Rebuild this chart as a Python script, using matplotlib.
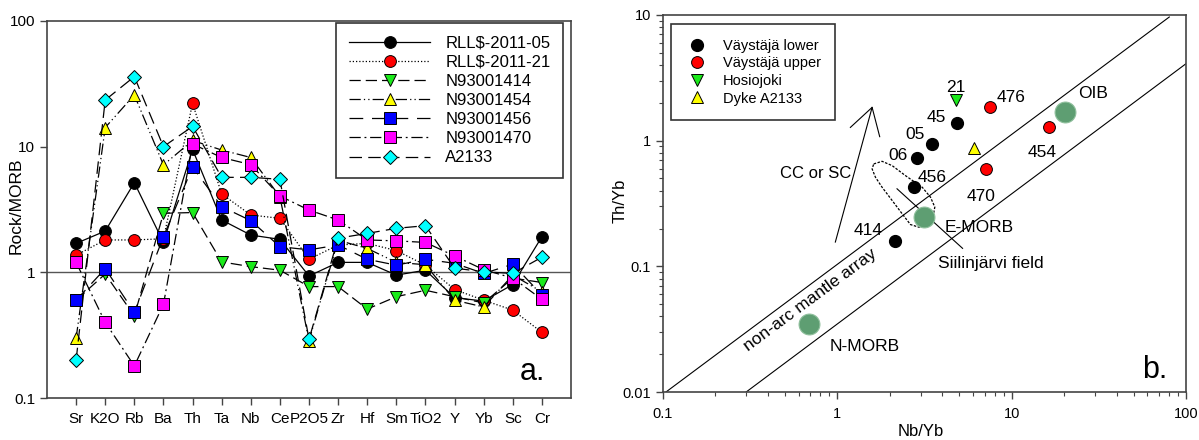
import matplotlib
matplotlib.use("Agg")
import matplotlib.pyplot as plt
from matplotlib.ticker import LogLocator, NullFormatter, NullLocator

plt.rcParams['font.family'] = ['Liberation Sans', 'DejaVu Sans']

# ---- panel a: MORB-normalised spider diagram ----
elements = ['Sr', 'K2O', 'Rb', 'Ba', 'Th', 'Ta', 'Nb', 'Ce', 'P2O5', 'Zr',
            'Hf', 'Sm', 'TiO2', 'Y', 'Yb', 'Sc', 'Cr']

rll05 = [1.70, 2.13, 5.17, 1.73, 9.5, 2.61, 1.98, 1.83, 0.935, 1.20, 1.20, 0.95, 1.04, 0.63, 0.59, 0.80, 1.92]
rll21 = [1.37, 1.81, 1.81, 1.85, 22.1, 4.2, 2.86, 2.69, 1.27, 1.65, 1.70, 1.49, 1.14, 0.73, 0.60, 0.50, 0.333]
n414 = [0.60, 0.97, 0.45, 2.95, 2.99, 1.21, 1.11, 1.04, 0.77, 0.77, 0.51, 0.64, 0.72, 0.64, 0.57, 0.90, 0.83]
n454 = [0.30, 14.2, 25.8, 7.15, 11.2, 9.4, 8.2, 4.0, 0.286, 1.8, 1.55, 1.2, 1.15, 0.60, 0.53, 0.95, 0.70]
n456 = [0.60, 1.07, 0.48, 1.92, 6.9, 3.33, 2.58, 1.60, 1.51, 1.65, 1.27, 1.14, 1.27, 1.18, 0.98, 1.16, 0.66]
n470 = [1.20, 0.40, 0.18, 0.556, 10.5, 8.2, 7.2, 4.05, 3.13, 2.61, 1.81, 1.78, 1.73, 1.35, 1.05, 0.90, 0.61]
a2133 = [0.20, 23.5, 36.1, 10.0, 14.5, 5.7, 5.7, 5.5, 0.293, 1.87, 2.04, 2.24, 2.35, 1.08, 1.01, 0.98, 1.32]

# ---- panel b: Th/Yb vs Nb/Yb ----
lower_nb = [4.83, 3.47, 2.87, 2.74, 2.13]
lower_th = [1.39, 0.946, 0.73, 0.431, 0.159]
upper_nb = [7.48, 7.1, 16.3]
upper_th = [1.86, 0.59, 1.29]
hosio_nb = [4.77]
hosio_th = [2.12]
dyke_nb = [6.05]
dyke_th = [0.88]
ref_nb = [0.69, 3.13, 20.2]   # N-MORB, E-MORB, OIB
ref_th = [0.0347, 0.246, 1.70]

# mantle array boundaries
array_top_nb = [0.104, 80.2]
array_top_th = [0.01, 9.64]
array_bot_nb = [0.30, 99.6]
array_bot_th = [0.01, 4.08]

# Siilinjarvi field outline
field_nb = [1.617, 1.806, 2.063, 2.459, 3.068, 3.423, 3.624, 3.530, 3.278, 2.933,
            2.627, 2.354, 2.063, 1.806, 1.654, 1.583, 1.617]
field_th = [0.653, 0.685, 0.633, 0.527, 0.426, 0.355, 0.296, 0.246, 0.212, 0.205,
            0.215, 0.262, 0.334, 0.426, 0.512, 0.596, 0.653]
field_line_nb = [2.20, 5.23]
field_line_th = [0.414, 0.139]

# CC or SC arrow
arrow_nb = [0.974, 1.583]
arrow_th = [0.156, 1.84]
head_nb = [1.188, 1.583, 1.75]
head_th = [1.275, 1.84, 1.076]

fig = plt.figure(figsize=(11.99, 4.40), dpi=100)
ax1 = fig.add_axes([47 / 1199, 1 - 398 / 440, 524 / 1199, 377 / 440])
ax2 = fig.add_axes([663 / 1199, 1 - 392 / 440, 523 / 1199, 377 / 440])

spine_col = '#444444'
x = list(range(len(elements)))

series = [
    (rll05, 'RLL$-2011-05', 'o', 'black', '-', 8.5),
    (rll21, 'RLL$-2011-21', 'o', '#ff0000', (0, (1, 1.6)), 8.5),
    (n414, 'N93001414', 'v', '#1bea1b', (0, (9, 4)), 9),
    (n454, 'N93001454', '^', '#ffff00', (0, (9, 2.5, 1, 2.5, 1, 2.5)), 9),
    (n456, 'N93001456', 's', '#0000ff', (0, (11, 7)), 8),
    (n470, 'N93001470', 's', '#ff00ff', (0, (9, 3, 1.5, 3)), 8),
    (a2133, 'A2133', 'D', '#00ffff', (0, (10, 5)), 7.5),
]

ax1.axhline(1, color='#555555', lw=1.0, zorder=1)
for vals, lab, mk, col, ls, ms in series:
    ax1.plot(x, vals, linestyle=ls, color='black', lw=0.9, marker=mk, ms=ms,
             markerfacecolor=col, markeredgecolor='black', markeredgewidth=0.7,
             label=lab, zorder=3)

ax1.set_yscale('log')
ax1.set_ylim(0.1, 100)
ax1.set_xlim(-1, 17)
ax1.set_yticks([0.1, 1, 10, 100])
ax1.set_yticklabels(['0.1', '1', '10', '100'])
ax1.yaxis.set_minor_locator(NullLocator())
ax1.set_xticks(x)
ax1.set_xticklabels(elements)
ax1.tick_params(axis='both', direction='out', length=5, width=1, color=spine_col,
                labelsize=11, top=False, right=False)
ax1.tick_params(axis='x', pad=5)
ax1.set_ylabel('Rock/MORB', fontsize=12.5)
ax1.yaxis.label.set_va('center')
ax1.yaxis.set_label_coords(-0.059, 0.51)
for s in ax1.spines.values():
    s.set_color(spine_col)
    s.set_linewidth(1.2)

leg1 = ax1.legend(loc='upper right', bbox_to_anchor=(0.985, 0.995), fontsize=12,
                  handlelength=4.9, handletextpad=0.9, borderpad=0.75,
                  labelspacing=0.25, borderaxespad=0, fancybox=False,
                  framealpha=1, numpoints=1)
leg1.get_frame().set_edgecolor('#333333')
leg1.get_frame().set_linewidth(1.2)

ax1.text(0.95, 0.048, 'a.', transform=ax1.transAxes, fontsize=22,
         ha='right', va='baseline')

# ---- panel b ----
ax2.plot(array_top_nb, array_top_th, color='black', lw=0.8)
ax2.plot(array_bot_nb, array_bot_th, color='black', lw=0.8)
ax2.plot(field_nb, field_th, color='black', lw=0.9, linestyle=(0, (2, 1.2)))
ax2.plot(field_line_nb, field_line_th, color='black', lw=0.8)
ax2.plot(arrow_nb, arrow_th, color='black', lw=0.8)
ax2.plot(head_nb, head_th, color='black', lw=0.8)

ax2.plot(ref_nb, ref_th, linestyle='none', marker='o', ms=15,
         markerfacecolor='#5e9e72', markeredgecolor='#8fbf9c', markeredgewidth=0.8)
ax2.plot(lower_nb, lower_th, linestyle='none', marker='o', ms=8.5,
         markerfacecolor='black', markeredgecolor='black', label='Väystäjä lower')
ax2.plot(upper_nb, upper_th, linestyle='none', marker='o', ms=8.5,
         markerfacecolor='#ff0000', markeredgecolor='black', markeredgewidth=0.7,
         label='Väystäjä upper')
ax2.plot(hosio_nb, hosio_th, linestyle='none', marker='v', ms=9,
         markerfacecolor='#1bea1b', markeredgecolor='black', markeredgewidth=0.7,
         label='Hosiojoki')
ax2.plot(dyke_nb, dyke_th, linestyle='none', marker='^', ms=9,
         markerfacecolor='#ffff00', markeredgecolor='black', markeredgewidth=0.7,
         label='Dyke A2133')

fs = 12.5
ax2.text(4.77, 2.64, '21', fontsize=fs, ha='center', va='center')
ax2.text(8.2, 2.19, '476', fontsize=fs, ha='left', va='center')
ax2.text(4.18, 1.52, '45', fontsize=fs, ha='right', va='center')
ax2.text(3.16, 1.12, '05', fontsize=fs, ha='right', va='center')
ax2.text(2.52, 0.76, '06', fontsize=fs, ha='right', va='center')
ax2.text(2.88, 0.508, '456', fontsize=fs, ha='left', va='center')
ax2.text(6.64, 0.36, '470', fontsize=fs, ha='center', va='center')
ax2.text(14.9, 0.80, '454', fontsize=fs, ha='center', va='center')
ax2.text(23.9, 2.36, 'OIB', fontsize=fs, ha='left', va='center')
ax2.text(4.12, 0.204, 'E-MORB', fontsize=fs, ha='left', va='center')
ax2.text(3.80, 0.106, 'Siilinjärvi field', fontsize=fs, ha='left', va='center')
ax2.text(1.51, 0.193, '414', fontsize=fs, ha='center', va='center')
ax2.text(0.90, 0.0232, 'N-MORB', fontsize=fs, ha='left', va='center')
ax2.text(0.47, 0.55, 'CC or SC', fontsize=12, ha='left', va='center')
ax2.text(0.70, 0.0537, 'non-arc mantle array', fontsize=fs, ha='center', va='center',
         rotation=36.5, rotation_mode='anchor')
ax2.text(0.964, 0.037, 'b.', transform=ax2.transAxes, fontsize=22,
         ha='right', va='baseline')

ax2.set_xscale('log')
ax2.set_yscale('log')
ax2.set_xlim(0.1, 100)
ax2.set_ylim(0.01, 10)
ax2.set_xticks([0.1, 1, 10, 100])
ax2.set_xticklabels(['0.1', '1', '10', '100'])
ax2.set_yticks([0.01, 0.1, 1, 10])
ax2.set_yticklabels(['0.01', '0.1', '1', '10'])
ax2.xaxis.set_minor_locator(LogLocator(base=10, subs=range(2, 10)))
ax2.yaxis.set_minor_locator(LogLocator(base=10, subs=range(2, 10)))
ax2.xaxis.set_minor_formatter(NullFormatter())
ax2.yaxis.set_minor_formatter(NullFormatter())
ax2.tick_params(axis='both', which='major', direction='out', length=5, width=1,
                color=spine_col, labelsize=10.5, top=False, right=False)
ax2.tick_params(axis='both', which='minor', direction='out', length=3, width=0.8,
                color=spine_col, top=False, right=False)
ax2.tick_params(axis='x', which='major', pad=6)
ax2.set_xlabel('Nb/Yb', fontsize=12)
ax2.xaxis.label.set_va('center')
ax2.xaxis.set_label_coords(0.493, -0.106)
ax2.set_ylabel('Th/Yb', fontsize=12)
ax2.yaxis.label.set_va('center')
ax2.yaxis.set_label_coords(-0.082, 0.507)
for s in ax2.spines.values():
    s.set_color(spine_col)
    s.set_linewidth(1.2)

leg2 = ax2.legend(loc='upper left', bbox_to_anchor=(0.015, 0.976), fontsize=10.5,
                  handlelength=1.6, handletextpad=0.95, borderpad=1.0,
                  labelspacing=0.25, borderaxespad=0, fancybox=False,
                  framealpha=1, numpoints=1)
leg2.get_frame().set_edgecolor('#333333')
leg2.get_frame().set_linewidth(1.2)

fig.savefig('out.png', dpi=100)
